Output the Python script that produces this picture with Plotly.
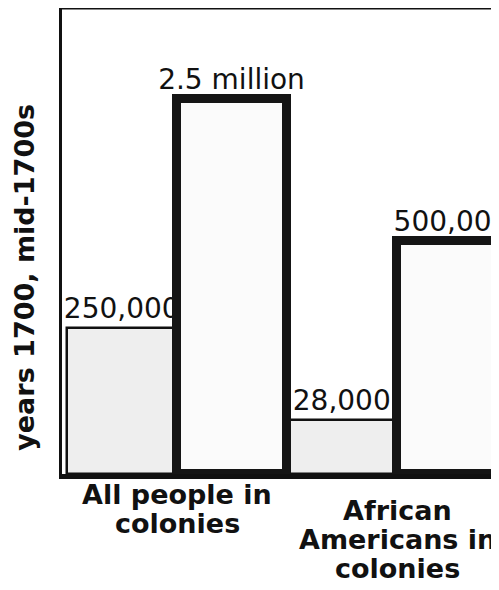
import plotly.graph_objects as go

# Categories (x-axis) and series
categories = ["All people in<br>colonies", "African<br>Americans in<br>colonies"]
series_names = ["1700", "mid-1700s"]
# Bar heights as drawn in the picture (the original chart is not to scale; arbitrary units)
heights_1700 = [146, 54]
heights_mid1700s = [376, 234]
# Value labels printed above the bars
labels_1700 = ["250,000", "28,000"]
labels_mid1700s = ["2.5 million", "500,000"]
y_title = "years 1700, mid-1700s"

fig = go.Figure()
fig.add_trace(go.Bar(
    x=categories, y=heights_1700, name=series_names[0],
    text=labels_1700, textposition="outside", constraintext="none", cliponaxis=False,
    textfont=dict(family="DejaVu Sans", size=28, color="#111"),
    marker=dict(color="#eeeeee", line=dict(color="#111", width=2.5)),
))
fig.add_trace(go.Bar(
    x=categories, y=heights_mid1700s, name=series_names[1],
    text=labels_mid1700s, textposition="outside", constraintext="none", cliponaxis=False,
    textfont=dict(family="DejaVu Sans", size=28, color="#111"),
    marker=dict(color="#fbfbfb", line=dict(color="#151515", width=9)),
))

# Category labels below the plot, one annotation per line (tighter line spacing as in the picture)
first_line_shift = [-3, -19]
line_pitch = 29
for cat, s0 in zip(categories, first_line_shift):
    for i, line in enumerate(cat.split("<br>")):
        fig.add_annotation(
            x=cat, y=0, xref="x", yref="paper", text="<b>" + line + "</b>",
            showarrow=False, xanchor="center", yanchor="top", yshift=s0 - line_pitch * i,
            font=dict(family="DejaVu Sans", size=27, color="#111"),
        )

fig.add_annotation(
    x=-37 / 437, y=0.421, xref="paper", yref="paper", text="<b>" + y_title + "</b>",
    textangle=-90, showarrow=False, xanchor="center", yanchor="middle",
    font=dict(family="DejaVu Sans", size=27, color="#111"),
)

# top frame line
fig.add_shape(type="line", xref="paper", yref="paper", x0=0, x1=1, y0=1, y1=1,
              line=dict(color="#111", width=3))

fig.update_layout(
    width=491, height=574,
    margin=dict(l=54, r=0, t=0, b=108),
    paper_bgcolor="white", plot_bgcolor="white",
    barmode="group", bargap=0, bargroupgap=0,
    showlegend=False,
    xaxis=dict(range=[-0.5227, 1.4636], showticklabels=False, ticks="",
               showline=True, linecolor="#111", linewidth=5, showgrid=False, zeroline=False),
    yaxis=dict(range=[0, 467], showticklabels=False, ticks="",
               showline=True, linecolor="#111", linewidth=3, showgrid=False, zeroline=False),
)

fig.write_html("out.html")
